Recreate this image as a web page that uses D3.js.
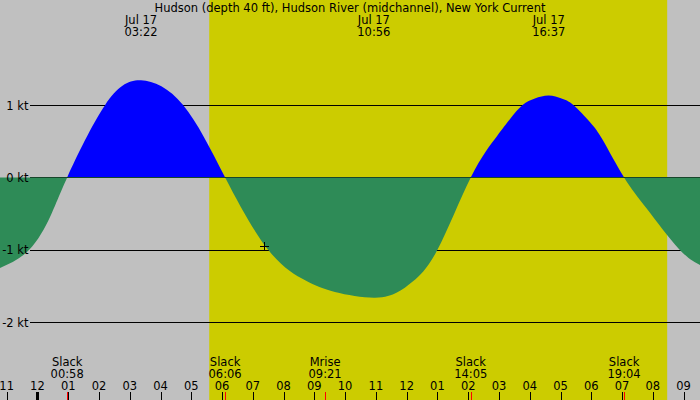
<!DOCTYPE html>
<html>
<head>
<meta charset="utf-8">
<script src="https://cdn.jsdelivr.net/npm/d3@7"></script>
<style>
  body { margin: 0; background: #c0c0c0; }
  text { font-family: "DejaVu Sans", sans-serif; font-size: 11.5px; fill: #000; }
</style>
</head>
<body>
<div id="chart"></div>
<script>
// current speed in knots (slacks, maxima, +/-1 kt crossings and a few more)
const times = [
    "07-16 22:47", "07-16 23:44", "07-17 00:25", "07-17 00:58", "07-17 02:12", "07-17 03:22",
    "07-17 04:44", "07-17 06:06", "07-17 07:30", "07-17 08:42", "07-17 09:40", "07-17 10:56",
    "07-17 11:41", "07-17 12:13", "07-17 13:00", "07-17 14:05", "07-17 14:56", "07-17 15:22",
    "07-17 15:46", "07-17 16:10", "07-17 16:37", "07-17 17:02", "07-17 17:25", "07-17 17:58",
    "07-17 18:23", "07-17 19:04", "07-17 19:48", "07-17 20:50", "07-17 21:32"
];
const speeds = [
    -1.25, -1.00, -0.54, 0.00, 1.00, 1.34,
    1.00, 0.00, -1.00, -1.42, -1.58, -1.66,
    -1.59, -1.43, -1.00, 0.00, 0.57, 0.81,
    1.00, 1.09, 1.13, 1.09, 1.00, 0.76,
    0.51, 0.00, -0.43, -0.98, -1.21
];

const title = "Hudson (depth 40 ft), Hudson River (midchannel), New York Current";
const peakTimes = ["07-17 03:22", "07-17 10:56", "07-17 16:37"];
const peakLabels = ["03:22", "10:56", "16:37"];
const peakDate = "Jul 17";

const eventNames = ["Slack", "Slack", "Mrise", "Slack", "Slack"];
const eventTimes = ["07-17 00:58", "07-17 06:06", "07-17 09:21", "07-17 14:05", "07-17 19:04"];
const eventLabels = ["00:58", "06:06", "09:21", "14:05", "19:04"];

const sunrise = "07-17 05:35";
const sunset = "07-17 20:28";
const nowMark = { time: "07-17 07:22", speed: -0.95 };

const ktTicks = [1, 0, -1, -2];
const domainStart = "07-16 22:47", domainEnd = "07-17 21:32";

const parse = d3.timeParse("%Y-%m-%d %H:%M");
const t = s => parse("2023-" + s);

const width = 700, height = 400;

const svg = d3.select("#chart").append("svg")
    .attr("width", width)
    .attr("height", height);

const x = d3.scaleTime()
    .domain([t(domainStart), t(domainEnd)])
    .range([0, width]);

const y = d3.scaleLinear()
    .domain([1, -2])
    .range([105, 322.3]);

const data = times.map((s, i) => ({ date: t(s), v: speeds[i] }));

// background: night grey, day yellow
svg.append("rect")
    .attr("width", width).attr("height", height)
    .attr("fill", "#c0c0c0");

svg.append("rect")
    .attr("x", x(t(sunrise)))
    .attr("width", x(t(sunset)) - x(t(sunrise)))
    .attr("height", height)
    .attr("fill", "#cccc00");

// kt grid lines (the fills are drawn over them)
svg.selectAll(".grid")
    .data(ktTicks)
    .enter().append("line")
    .attr("x1", 30).attr("x2", width)
    .attr("y1", d => Math.round(y(d)) + 0.5)
    .attr("y2", d => Math.round(y(d)) + 0.5)
    .attr("stroke", "#000");

// flood (blue) above the zero line, ebb (green) from the zero line down
const zeroRow = Math.round(y(0));
const defs = svg.append("defs");
defs.append("clipPath").attr("id", "above")
    .append("rect").attr("width", width).attr("height", zeroRow);
defs.append("clipPath").attr("id", "below")
    .append("rect").attr("y", zeroRow).attr("width", width).attr("height", height - zeroRow);

const area = d3.area()
    .x(d => x(d.date))
    .y0(y(0))
    .y1(d => y(d.v))
    .curve(d3.curveNatural);

svg.append("path")
    .datum(data)
    .attr("clip-path", "url(#above)")
    .attr("fill", "#0000ff")
    .attr("d", area);

svg.append("path")
    .datum(data)
    .attr("clip-path", "url(#below)")
    .attr("fill", "#2e8b57")
    .attr("d", area);

svg.selectAll(".ktlabel")
    .data(ktTicks)
    .enter().append("text")
    .attr("x", 28.5)
    .attr("y", d => y(d) + 4.5)
    .attr("text-anchor", "end")
    .text(d => d + " kt");

// current time cross
const cx = Math.round(x(t(nowMark.time))) + 0.5;
const cy = Math.round(y(nowMark.speed)) + 0.5;
svg.append("path")
    .attr("d", `M${cx - 4.5},${cy}H${cx + 4.5}M${cx},${cy - 4.5}V${cy + 4.5}`)
    .attr("stroke", "#000");

// title and peak labels
svg.append("text")
    .attr("x", width / 2)
    .attr("y", 12)
    .attr("text-anchor", "middle")
    .text(title);

const peaks = svg.selectAll(".peak")
    .data(peakTimes)
    .enter().append("g")
    .attr("transform", d => `translate(${x(t(d))},0)`);
peaks.append("text")
    .attr("y", 24)
    .attr("text-anchor", "middle")
    .text(peakDate);
peaks.append("text")
    .attr("y", 36)
    .attr("text-anchor", "middle")
    .text((d, i) => peakLabels[i]);

// bottom events
const events = svg.selectAll(".event")
    .data(eventTimes)
    .enter().append("g")
    .attr("transform", d => `translate(${x(t(d))},0)`);
events.append("text")
    .attr("y", 366)
    .attr("text-anchor", "middle")
    .text((d, i) => eventNames[i]);
events.append("text")
    .attr("y", 378)
    .attr("text-anchor", "middle")
    .text((d, i) => eventLabels[i]);

// hour ticks
const hours = x.ticks(d3.timeHour.every(1));
const hourFmt = d3.timeFormat("%I");

svg.selectAll(".hour")
    .data(hours)
    .enter().append("text")
    .attr("x", d => x(d))
    .attr("y", 390)
    .attr("text-anchor", "middle")
    .text(d => hourFmt(d));

svg.selectAll(".htick")
    .data(hours)
    .enter().append("line")
    .attr("x1", d => Math.round(x(d)) + 0.5)
    .attr("x2", d => Math.round(x(d)) + 0.5)
    .attr("y1", 392).attr("y2", height)
    .attr("stroke", "#000")
    .attr("stroke-width", d => d.getHours() === 0 ? 3 : 1);

// red marks at event times
svg.selectAll(".etick")
    .data(eventTimes)
    .enter().append("line")
    .attr("x1", d => Math.round(x(t(d))) + 0.5)
    .attr("x2", d => Math.round(x(t(d))) + 0.5)
    .attr("y1", 392).attr("y2", height)
    .attr("stroke", "#ff0000");
</script>
</body>
</html>
